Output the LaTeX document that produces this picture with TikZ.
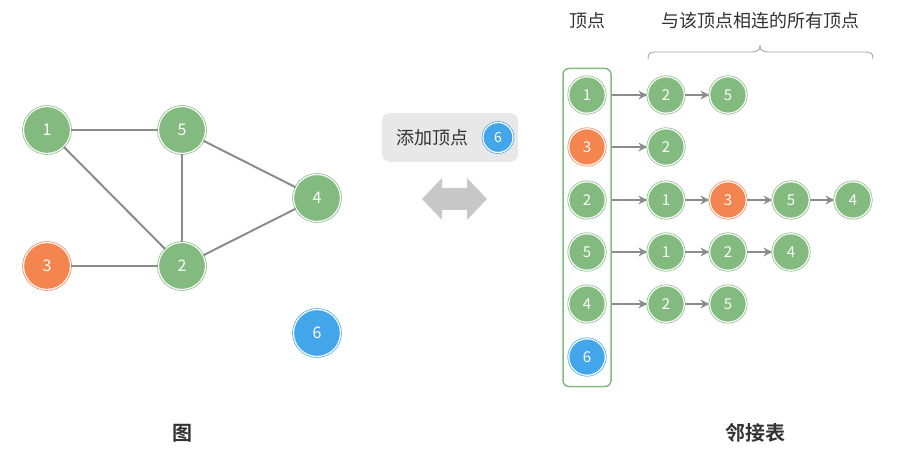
\documentclass[tikz,border=0pt]{standalone}
\usepackage{fontspec}
\setmainfont{Noto Sans CJK SC}[BoldFont={Noto Sans CJK SC Bold}]
\usetikzlibrary{arrows.meta}
\definecolor{gn}{HTML}{82BA80}
\definecolor{og}{HTML}{F5854F}
\definecolor{bl}{HTML}{44A6EA}
\definecolor{edgegray}{HTML}{8C8C8C}
\definecolor{txt}{HTML}{333333}
\definecolor{boxgray}{HTML}{E8E8E8}
\definecolor{dblgray}{HTML}{C8C8C8}
\tikzset{
  vtx/.style={circle, inner sep=0pt, fill=#1, draw=#1, double=white, line width=0.7pt, double distance=1.2pt, text=white, font=\fontsize{16}{18}\selectfont},
  big/.style={minimum size=47pt},
  small/.style={minimum size=36.5pt, font=\fontsize{15}{17}\selectfont},
  tiny/.style={minimum size=30pt, font=\fontsize{14}{16}\selectfont},
  gedge/.style={draw=edgegray, line width=2pt},
  larr/.style={draw=edgegray, line width=2pt, -{Stealth[length=9pt,width=9pt]}},
  hdr/.style={text=txt, font=\fontsize{18}{20}\selectfont},
  ttl/.style={text=txt, font=\fontsize{20}{22}\selectfont\bfseries},
}
\begin{document}
\begin{tikzpicture}[x=1pt,y=-1pt]
\useasboundingbox (0,0) rectangle (897,454);
% ---------- graph ----------
\node[vtx=gn, big] (g1) at (47,130) {1};
\node[vtx=gn, big] (g5) at (182,130) {5};
\node[vtx=gn, big] (g4) at (317,198) {4};
\node[vtx=og, big] (g3) at (47,266) {3};
\node[vtx=gn, big] (g2) at (182,266) {2};
\node[vtx=bl, big] (g6) at (317,333) {6};
\draw[gedge] (g1) -- (g5);
\draw[gedge] (g1) -- (g2);
\draw[gedge] (g5) -- (g2);
\draw[gedge] (g5) -- (g4);
\draw[gedge] (g3) -- (g2);
\draw[gedge] (g2) -- (g4);
% ---------- middle ----------
\node[fill=boxgray, rounded corners=8pt, minimum width=136pt, minimum height=49pt] (addbox) at (450,137.5) {};
\node[hdr, anchor=west] (addtxt) at (393,137.5) {添加顶点};
\node[vtx=bl, tiny] (m6) at (498,137.5) {6};
\fill[dblgray] (422,199) -- (442,178) -- (442,188) -- (467,188) -- (467,178) -- (487,199)
  -- (467,220) -- (467,210) -- (442,210) -- (442,220) -- cycle;
% ---------- adjacency list ----------
\node[draw=gn, line width=1.5pt, rounded corners=6pt, minimum width=48pt, minimum height=318pt] (col) at (587,227.5) {};
\node[vtx=gn, small] (v1) at (587,95) {1};
\node[vtx=og, small] (v3) at (587,147) {3};
\node[vtx=gn, small] (v2) at (587,200) {2};
\node[vtx=gn, small] (v5) at (587,252) {5};
\node[vtx=gn, small] (v4) at (587,304) {4};
\node[vtx=bl, small] (v6) at (587,357) {6};
\coordinate (c1) at (col.east |- v1);
\coordinate (c3) at (col.east |- v3);
\coordinate (c2) at (col.east |- v2);
\coordinate (c5) at (col.east |- v5);
\coordinate (c4) at (col.east |- v4);
% row 1
\node[vtx=gn, small] (a12) at (666,95) {2};
\node[vtx=gn, small] (a15) at (728,95) {5};
\draw[larr] (c1) -- (a12);
\draw[larr] (a12) -- (a15);
% row 3
\node[vtx=gn, small] (a32) at (666,147) {2};
\draw[larr] (c3) -- (a32);
% row 2
\node[vtx=gn, small] (a21) at (666,200) {1};
\node[vtx=og, small] (a23) at (728,200) {3};
\node[vtx=gn, small] (a25) at (791,200) {5};
\node[vtx=gn, small] (a24) at (853,200) {4};
\draw[larr] (c2) -- (a21);
\draw[larr] (a21) -- (a23);
\draw[larr] (a23) -- (a25);
\draw[larr] (a25) -- (a24);
% row 5
\node[vtx=gn, small] (a51) at (666,252) {1};
\node[vtx=gn, small] (a52) at (728,252) {2};
\node[vtx=gn, small] (a54) at (791,252) {4};
\draw[larr] (c5) -- (a51);
\draw[larr] (a51) -- (a52);
\draw[larr] (a52) -- (a54);
% row 4
\node[vtx=gn, small] (a42) at (666,304) {2};
\node[vtx=gn, small] (a45) at (728,304) {5};
\draw[larr] (c4) -- (a42);
\draw[larr] (a42) -- (a45);
% headers
\node[hdr] (h1) at (587,21) {顶点};
\node[hdr] (h2) at (760,21) {与该顶点相连的所有顶点};
\draw[draw=edgegray!80, line width=0.9pt] (648,59) .. controls (648,53) and (650,52) .. (656,52) -- (752,52)
  .. controls (757,52) and (760,50) .. (760,46) .. controls (760,50) and (763,52) .. (768,52) -- (865,52)
  .. controls (871,52) and (873,53) .. (873,59);
% titles
\node[ttl] (t1) at (182,433) {图};
\node[ttl] (t2) at (755,433) {邻接表};
\end{tikzpicture}
\end{document}
